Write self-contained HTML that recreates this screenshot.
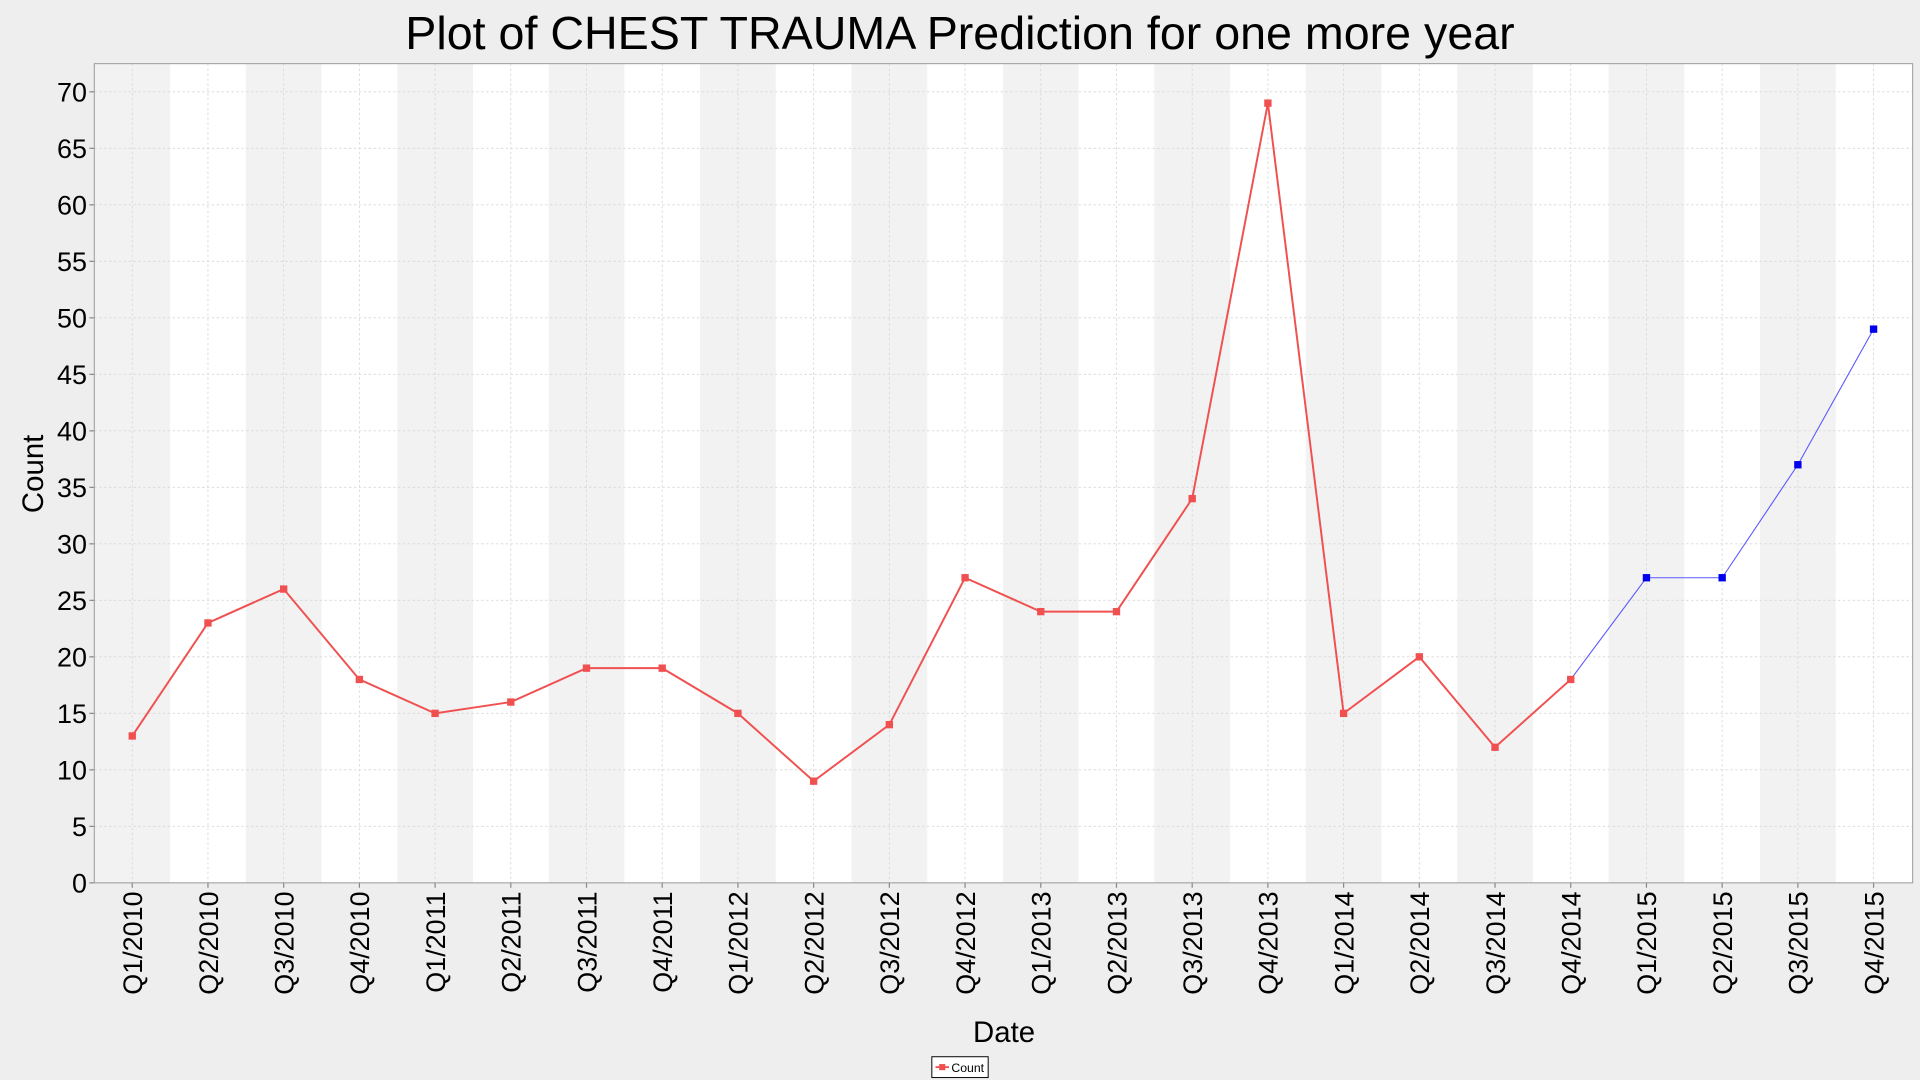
<!DOCTYPE html>
<html><head><meta charset="utf-8"><style>
html,body{margin:0;padding:0;background:#eeeeee;}
svg{display:block;}
text{font-family:"Liberation Sans","DejaVu Sans",sans-serif;}
</style></head><body>
<svg id="chart" width="1920" height="1080" viewBox="0 0 1568 882" xmlns="http://www.w3.org/2000/svg">
<rect x="0" y="0" width="1568" height="882" fill="#eeeeee"/>
<text x="784" y="40" text-anchor="middle" font-size="38" textLength="906" lengthAdjust="spacingAndGlyphs" fill="#000">Plot of CHEST TRAUMA Prediction for one more year</text>
<g id="plot"></g>
<text transform="translate(35,387) rotate(-90)" text-anchor="middle" font-size="24" fill="#000">Count</text>
<text x="820" y="851" text-anchor="middle" font-size="24" fill="#000">Date</text>
<g>
<rect x="761" y="863" width="46" height="17" fill="#fff" stroke="#000" stroke-width="0.8"/>
<line x1="764" y1="871.5" x2="775" y2="871.5" stroke="#f05050" stroke-width="1.5"/>
<rect x="767" y="869" width="5" height="5" fill="#f05050"/>
<text x="777" y="875.5" font-size="10" fill="#000">Count</text>
</g>
</svg>
<script>
const categories=["Q1/2010","Q2/2010","Q3/2010","Q4/2010","Q1/2011","Q2/2011","Q3/2011","Q4/2011","Q1/2012","Q2/2012","Q3/2012","Q4/2012","Q1/2013","Q2/2013","Q3/2013","Q4/2013","Q1/2014","Q2/2014","Q3/2014","Q4/2014","Q1/2015","Q2/2015","Q3/2015","Q4/2015"];
const actualValues=[13,23,26,18,15,16,19,19,15,9,14,27,24,24,34,69,15,20,12,18];
const predictedValues=[18,27,27,37,49];
const predictedStart=19;
const yTicks=[0,5,10,15,20,25,30,35,40,45,50,55,60,65,70];

const NS="http://www.w3.org/2000/svg";
const L=77,R=1562,T=52,B=721,X0=108,DX=61.83,Y70=75;
const xs=i=>X0+i*DX;
const ys=v=>B-(B-Y70)*v/70;
const g=document.getElementById('plot');
function mk(tag,attrs){const e=document.createElementNS(NS,tag);for(const k in attrs)e.setAttribute(k,attrs[k]);g.appendChild(e);return e;}

const bg=mk('rect',{x:L,y:T,width:R-L,height:B-T,fill:'#ffffff'});


categories.forEach((c,i)=>{
  if(i%2===0){
    const b=mk('rect',{x:xs(i)-DX/2,y:T,width:DX,height:B-T,fill:'#f2f2f2'});
    
    
  }
});
yTicks.forEach(v=>{
  const l=mk('line',{x1:L,x2:R,y1:ys(v),y2:ys(v),stroke:'#d8d8d8','stroke-width':0.7,'stroke-dasharray':'2,2'});
  
  
  mk('line',{x1:L-4,x2:L,y1:ys(v),y2:ys(v),stroke:'#888','stroke-width':1});
  const t=mk('text',{x:L-6,y:ys(v)+8,'text-anchor':'end','font-size':22,fill:'#000'});
  t.textContent=v;
  
  
});
categories.forEach((c,i)=>{
  const l=mk('line',{x1:xs(i),x2:xs(i),y1:T,y2:B,stroke:'#d8d8d8','stroke-width':0.7,'stroke-dasharray':'2,2'});
  
  
  mk('line',{x1:xs(i),x2:xs(i),y1:B,y2:B+4,stroke:'#888','stroke-width':1});
  const t=mk('text',{transform:`translate(${xs(i)+8},${B+7}) rotate(-90)`,'text-anchor':'end','font-size':22,fill:'#000'});
  t.textContent=c;
  
  
});
mk('rect',{x:L,y:T,width:R-L,height:B-T,fill:'none',stroke:'#999','stroke-width':0.8});

const pl=mk('polyline',{points:predictedValues.map((v,i)=>xs(predictedStart+i)+','+ys(v)).join(' '),fill:'none',stroke:'#5a5aff','stroke-width':0.9});


const al=mk('polyline',{points:actualValues.map((v,i)=>xs(i)+','+ys(v)).join(' '),fill:'none',stroke:'#f05050','stroke-width':1.6});


actualValues.forEach((v,i)=>{
  const p=mk('rect',{x:xs(i)-3,y:ys(v)-3,width:6,height:6,fill:'#f05050'});
  
  
});
predictedValues.forEach((v,i)=>{
  if(i===0)return;
  const p=mk('rect',{x:xs(predictedStart+i)-3,y:ys(v)-3,width:6,height:6,fill:'#0000ee'});
  
  
});
</script>
</body></html>
